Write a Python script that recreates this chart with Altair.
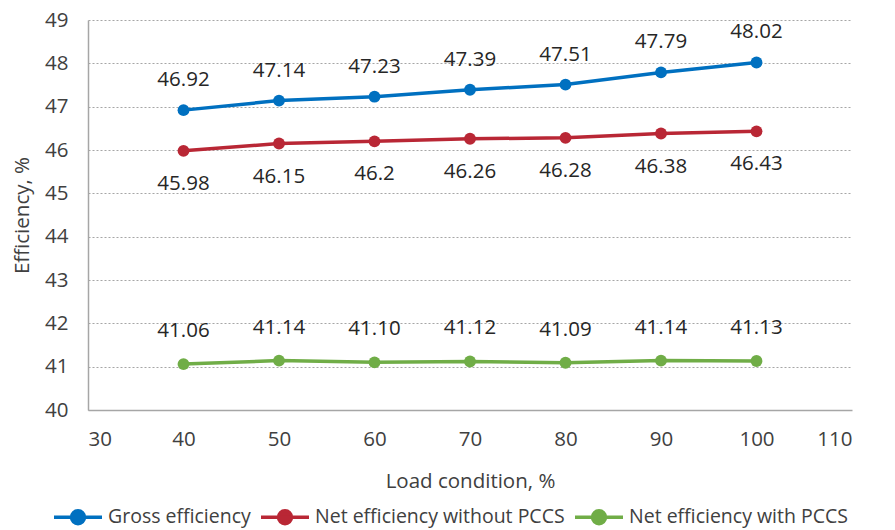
import altair as alt
import pandas as pd

load = [40, 50, 60, 70, 80, 90, 100]
gross = [46.92, 47.14, 47.23, 47.39, 47.51, 47.79, 48.02]
net_wo = [45.98, 46.15, 46.20, 46.26, 46.28, 46.38, 46.43]
net_w = [41.06, 41.14, 41.10, 41.12, 41.09, 41.14, 41.13]
gross_lbl = ["46.92", "47.14", "47.23", "47.39", "47.51", "47.79", "48.02"]
net_wo_lbl = ["45.98", "46.15", "46.2", "46.26", "46.28", "46.38", "46.43"]
net_w_lbl = ["41.06", "41.14", "41.10", "41.12", "41.09", "41.14", "41.13"]

series = ["Gross efficiency", "Net efficiency without PCCS", "Net efficiency with PCCS"]
colors = ["#0070C0", "#B92735", "#70AD47"]

rows = []
for name, vals, lbls in zip(series, [gross, net_wo, net_w], [gross_lbl, net_wo_lbl, net_w_lbl]):
    for x, v, l in zip(load, vals, lbls):
        rows.append({"load": x, "eff": v, "series": name, "label": l})
df = pd.DataFrame(rows)

FONT = "Open Sans"
FS = 20.5

x = alt.X("load:Q", title="Load condition, %",
          scale=alt.Scale(domain=[30, 110], nice=False),
          axis=alt.Axis(values=list(range(30, 111, 10)), grid=False, ticks=False,
                        domainColor="#A6A6A6", domainWidth=1.5,
                        labelFontSize=FS, labelColor="#404040", labelFont=FONT, labelPadding=19,
                        titleFontSize=FS, titleColor="#404040", titleFont=FONT,
                        titleFontWeight="normal", titlePadding=22))
y = alt.Y("eff:Q", title="Efficiency, %",
          scale=alt.Scale(domain=[40, 49], nice=False, zero=False),
          axis=alt.Axis(values=list(range(40, 50)), grid=True, gridDash=[2, 2],
                        gridColor="#A6A6A6", gridWidth=1.2, ticks=False,
                        domainColor="#A6A6A6", domainWidth=1.5,
                        labelFontSize=FS, labelColor="#404040", labelFont=FONT, labelPadding=20,
                        titleFontSize=FS, titleColor="#404040", titleFont=FONT,
                        titleFontWeight="normal", titlePadding=12))

color = alt.Color("series:N", scale=alt.Scale(domain=series, range=colors),
                  legend=alt.Legend(title=None, orient="none", direction="horizontal",
                                    legendX=-36, legendY=471, columns=3,
                                    symbolType="M-1,0L1,0M-0.27,0A0.27,0.27,0,1,1,0.27,0A0.27,0.27,0,1,1,-0.27,0",
                                    symbolSize=2304, symbolStrokeWidth=3.5,
                                    labelFontSize=19.5, labelFont=FONT, labelColor="#404040",
                                    columnPadding=3, labelOffset=4, labelLimit=400))

base = alt.Chart(df).encode(x=x, y=y, color=color)

lines = base.mark_line(strokeWidth=3.5)
points = base.mark_point(filled=True, size=140, opacity=1, shape="circle")

txt_common = dict(fontSize=FS, font=FONT, color="#262626", baseline="middle", align="center")
t_gross = alt.Chart(df[df.series == series[0]]).mark_text(dy=-30, **txt_common).encode(
    x="load:Q", y="eff:Q", text="label:N")
t_wo = alt.Chart(df[df.series == series[1]]).mark_text(dy=33, **txt_common).encode(
    x="load:Q", y="eff:Q", text="label:N")
t_w = alt.Chart(df[df.series == series[2]]).mark_text(dy=-33, **txt_common).encode(
    x="load:Q", y="eff:Q", text="label:N")

chart = alt.layer(lines, points, t_gross, t_wo, t_w).properties(
    width=764, height=390,
    autosize=alt.AutoSizeParams(type="none"),
    padding={"left": 88, "top": 20, "right": 43, "bottom": 120},
    background="white",
).configure_view(stroke=None)

chart.save("out.html", embed_options={"renderer": "svg", "actions": False})
